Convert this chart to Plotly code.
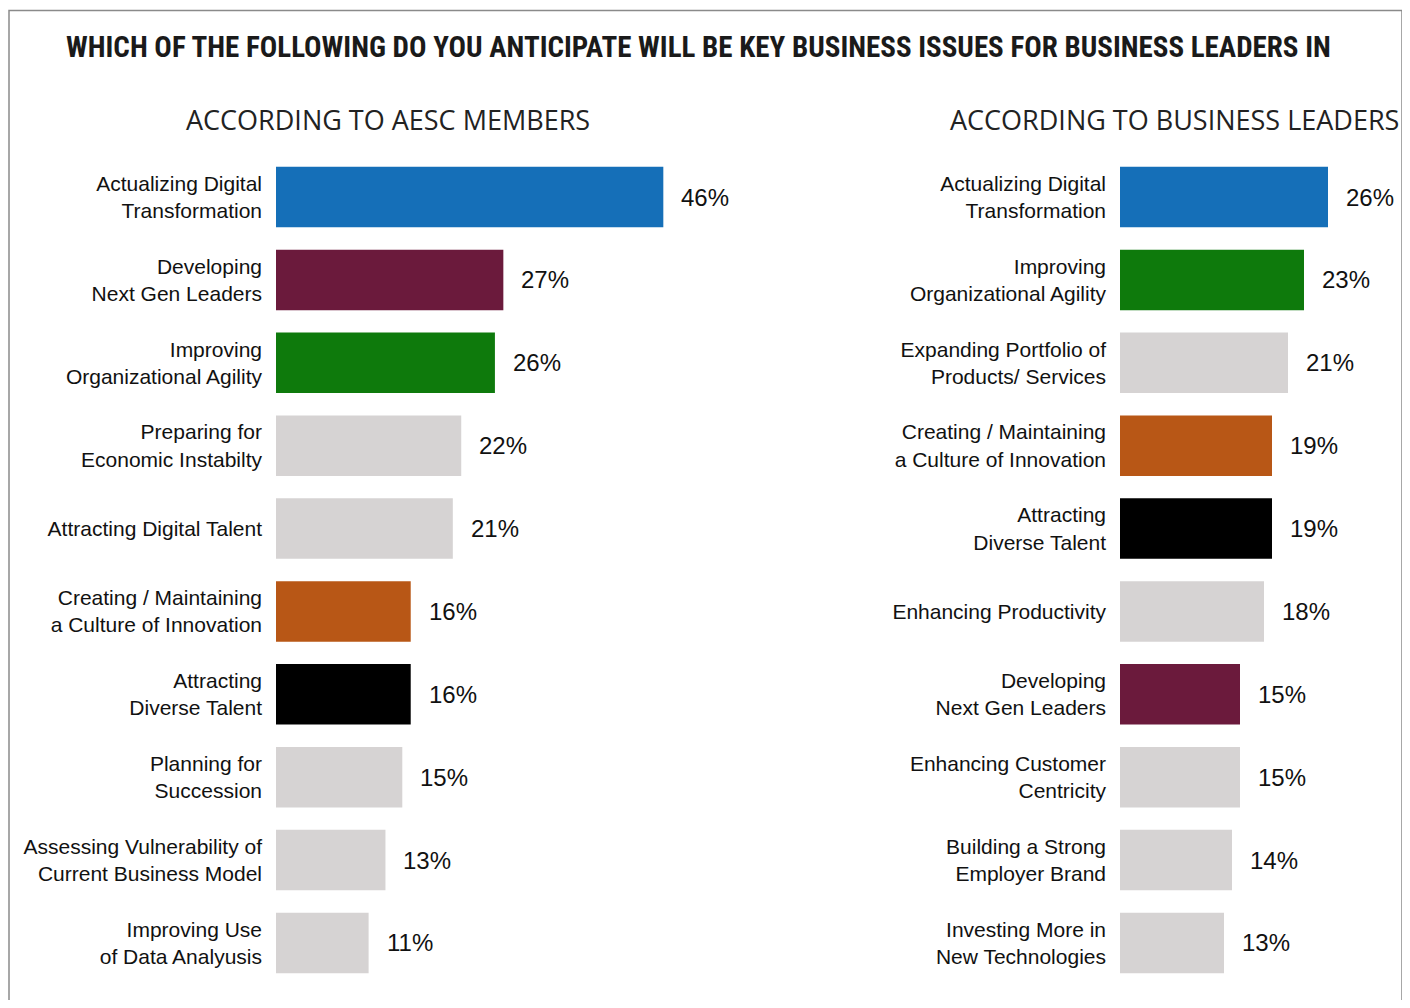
import plotly.graph_objects as go

# the page body adds an 8px margin, so the figure is a little smaller than the window
OFF = 8
W, H = 1402, 992

# --- data -------------------------------------------------------------
aesc_labels = [
    "Actualizing Digital<br>Transformation",
    "Developing<br>Next Gen Leaders",
    "Improving<br>Organizational Agility",
    "Preparing for<br>Economic Instabilty",
    "Attracting Digital Talent",
    "Creating / Maintaining<br>a Culture of Innovation",
    "Attracting<br>Diverse Talent",
    "Planning for<br>Succession",
    "Assessing Vulnerability of<br>Current Business Model",
    "Improving Use<br>of Data Analyusis",
]
aesc_values = [46, 27, 26, 22, 21, 16, 16, 15, 13, 11]

leader_labels = [
    "Actualizing Digital<br>Transformation",
    "Improving<br>Organizational Agility",
    "Expanding Portfolio of<br>Products/ Services",
    "Creating / Maintaining<br>a Culture of Innovation",
    "Attracting<br>Diverse Talent",
    "Enhancing Productivity",
    "Developing<br>Next Gen Leaders",
    "Enhancing Customer<br>Centricity",
    "Building a Strong<br>Employer Brand",
    "Investing More in<br>New Technologies",
]
leader_values = [26, 23, 21, 19, 19, 18, 15, 15, 14, 13]

BLUE, MAROON, GREEN = "#156FB8", "#6B1A3C", "#0E7A0C"
ORANGE, BLACK, GRAY = "#B85716", "#000000", "#D6D3D3"
issue_colors = {
    "Actualizing Digital<br>Transformation": BLUE,
    "Developing<br>Next Gen Leaders": MAROON,
    "Improving<br>Organizational Agility": GREEN,
    "Creating / Maintaining<br>a Culture of Innovation": ORANGE,
    "Attracting<br>Diverse Talent": BLACK,
}

title = "WHICH OF THE FOLLOWING DO YOU ANTICIPATE WILL BE KEY BUSINESS ISSUES FOR BUSINESS LEADERS IN"
sub_left = "ACCORDING TO AESC MEMBERS"
sub_right = "ACCORDING TO BUSINESS LEADERS"

# --- layout helpers (page pixel -> paper) ----------------------------------
def px(x):
    return (x - OFF) / W

def py(y):
    return 1 - (y - OFF) / H

left_x0, left_x1, left_scale = 276, 760, 8.42
right_x0, right_x1, right_scale = 1120, 1398, 8.0
label_font = dict(family="Liberation Sans, Arial", size=21, color="#111111")

fig = go.Figure()

panels = [
    (aesc_labels, aesc_values, "x", "y"),
    (leader_labels, leader_values, "x2", "y2"),
]
for labels, values, xa, ya in panels:
    fig.add_trace(go.Bar(
        x=values, y=labels, orientation="h",
        xaxis=xa, yaxis=ya,
        marker=dict(color=[issue_colors.get(l, GRAY) for l in labels], line=dict(width=0)),
        width=0.73, hoverinfo="skip",
    ))
    for l, v in zip(labels, values):
        fig.add_annotation(
            x=v, y=l, xref=xa, yref=ya, text=f"{v}%", showarrow=False,
            xanchor="left", xshift=16,
            font=dict(family="Liberation Sans, Arial", size=24, color="#111111"),
        )

ydom = [py(984.4), py(155.6)]
yaxis_common = dict(
    domain=ydom, autorange="reversed", showgrid=False, zeroline=False,
    showline=False, ticks="", tickfont=label_font, ticklabelstandoff=13,
)
fig.update_layout(
    width=W, height=H,
    margin=dict(l=0, r=0, t=0, b=0),
    paper_bgcolor="white", plot_bgcolor="white",
    showlegend=False,
    xaxis=dict(domain=[px(left_x0), px(left_x1)],
               range=[0, (left_x1 - left_x0) / left_scale],
               visible=False, fixedrange=True),
    xaxis2=dict(domain=[px(right_x0), px(right_x1)],
                range=[0, (right_x1 - right_x0) / right_scale],
                visible=False, fixedrange=True, anchor="y2"),
    yaxis=dict(**yaxis_common, anchor="x"),
    yaxis2=dict(**yaxis_common, anchor="x2"),
)

fig.add_annotation(
    x=px(698), y=py(47), xref="paper", yref="paper", showarrow=False,
    text=title, xanchor="center", yanchor="middle",
    font=dict(family="Roboto Condensed, Roboto", size=29,
              color="#1a1a1a", weight="bold"),
)
for txt, cx in [(sub_left, 388), (sub_right, 1174)]:
    fig.add_annotation(
        x=px(cx), y=py(119), xref="paper", yref="paper", showarrow=False,
        text=txt, xanchor="center", yanchor="middle",
        font=dict(family="Open Sans", size=27, color="#222222"),
    )

# thin frame round the picture
fig.add_shape(type="rect", xref="paper", yref="paper",
              x0=px(9), x1=px(1402), y0=-0.05, y1=py(10.5),
              line=dict(color="#8a8a8a", width=1.5), fillcolor="rgba(0,0,0,0)")

fig.write_html("out.html")
